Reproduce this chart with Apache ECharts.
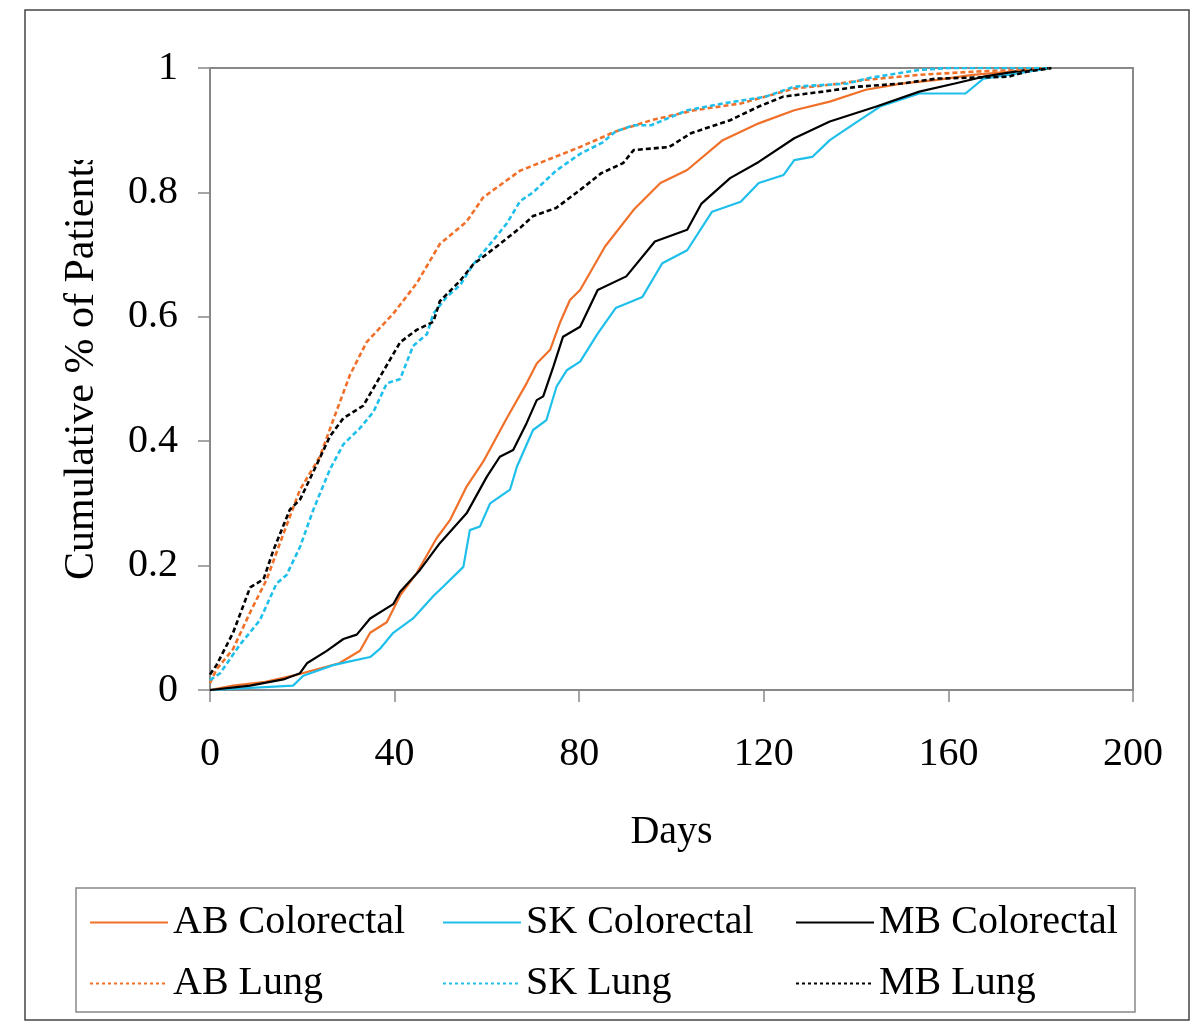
<!DOCTYPE html>
<html>
<head>
<meta charset="utf-8">
<script src="https://cdn.jsdelivr.net/npm/echarts@6/dist/echarts.min.js"></script>
<style>
html,body{margin:0;padding:0;background:#fff;}
#chart{width:1200px;height:1036px;}
</style>
</head>
<body>
<div id="chart"></div>
<script>
// ---- Data ----
var seriesNames = ['AB Colorectal', 'SK Colorectal', 'MB Colorectal', 'AB Lung', 'SK Lung', 'MB Lung'];

var abColDays = [0, 5, 12, 18, 23, 28, 32.5, 34.7, 38.3, 41.2, 44.8, 49.1, 52, 55.6, 59.2, 64.3, 68.6, 70.8, 73.7, 75.8, 78, 80.2, 85.6, 91.8, 97.6, 103.4, 111.1, 118.9, 126.6, 134.3, 142.1, 149.8, 157.5, 165.3, 173, 182.3];
var abColVals = [0, 0.007, 0.013, 0.023, 0.033, 0.043, 0.063, 0.092, 0.109, 0.152, 0.188, 0.244, 0.273, 0.327, 0.367, 0.437, 0.493, 0.525, 0.547, 0.59, 0.627, 0.643, 0.713, 0.772, 0.815, 0.836, 0.884, 0.911, 0.932, 0.946, 0.965, 0.975, 0.981, 0.989, 0.994, 1];

var skColDays = [0, 18, 20.2, 26.7, 30.3, 34.7, 36.8, 39.7, 44, 48.4, 50.5, 54.9, 56.3, 58.5, 60.7, 65, 66.5, 70, 72.9, 75.1, 77.3, 80.2, 84, 87.9, 93.7, 98, 103.4, 108.8, 115, 118.9, 124.3, 126.6, 130.5, 134.3, 139.7, 145.2, 153.7, 163.7, 167.6, 173, 182.3];
var skColVals = [0, 0.007, 0.023, 0.04, 0.046, 0.053, 0.066, 0.092, 0.115, 0.151, 0.166, 0.198, 0.257, 0.263, 0.3, 0.322, 0.359, 0.418, 0.434, 0.488, 0.514, 0.528, 0.573, 0.614, 0.632, 0.686, 0.707, 0.769, 0.785, 0.815, 0.828, 0.852, 0.857, 0.884, 0.911, 0.938, 0.959, 0.959, 0.983, 0.989, 1];

var mbColDays = [0, 8.7, 15.9, 19.5, 21, 25.3, 28.9, 31.8, 34.7, 39.7, 41.2, 45.5, 49.8, 55.6, 60, 62.8, 65.7, 68.6, 70.8, 72.2, 74.4, 76.5, 80.2, 84, 90.2, 96.4, 103.4, 106.5, 112.7, 118.9, 126.6, 134.3, 144.4, 153.7, 161.4, 167.6, 176.9, 182.3];
var mbColVals = [0, 0.007, 0.017, 0.027, 0.043, 0.063, 0.082, 0.089, 0.115, 0.138, 0.158, 0.193, 0.236, 0.284, 0.343, 0.375, 0.386, 0.429, 0.466, 0.472, 0.52, 0.568, 0.584, 0.643, 0.665, 0.721, 0.74, 0.782, 0.823, 0.849, 0.887, 0.914, 0.938, 0.962, 0.975, 0.986, 0.997, 1];

var abLungDays = [0, 1.4, 5, 8.7, 12.3, 15.2, 19.5, 23.8, 26.7, 30.3, 33.9, 39.7, 44.8, 49.8, 55.6, 59.2, 67.2, 80.2, 87.9, 95.6, 104.9, 115, 126.6, 134.3, 142.1, 153.7, 165.3, 182.3];
var abLungVals = [0.011, 0.033, 0.066, 0.125, 0.178, 0.237, 0.322, 0.375, 0.434, 0.506, 0.559, 0.605, 0.654, 0.717, 0.753, 0.792, 0.835, 0.873, 0.898, 0.916, 0.932, 0.943, 0.967, 0.973, 0.981, 0.989, 0.994, 1];

var skLungDays = [0, 2.2, 6.5, 10.8, 14.4, 16.6, 19.5, 22.4, 26, 28.9, 32.5, 35.4, 38.3, 41.2, 44, 47, 48.4, 51.3, 54.2, 57, 60.7, 64.3, 67.2, 70, 75, 80.2, 85, 87.9, 91.8, 95.6, 103.4, 111.1, 120.4, 126.6, 138.2, 142.1, 153.7, 160, 182.3];
var skLungVals = [0.016, 0.027, 0.073, 0.112, 0.171, 0.185, 0.23, 0.29, 0.355, 0.395, 0.421, 0.447, 0.493, 0.5, 0.553, 0.572, 0.605, 0.632, 0.651, 0.684, 0.717, 0.75, 0.786, 0.8, 0.835, 0.862, 0.88, 0.898, 0.908, 0.908, 0.932, 0.943, 0.954, 0.97, 0.975, 0.983, 0.997, 1, 1];

var mbLungDays = [0, 1.4, 5, 8.7, 11.6, 13.7, 17.3, 19.5, 23.1, 26, 28.9, 33.2, 36.8, 41.2, 44.8, 48.4, 49.8, 54.2, 57, 62.8, 67.2, 70, 75, 80.2, 84.8, 89.5, 91.8, 99.5, 104.2, 112.7, 118.9, 124.2, 132.8, 140.5, 149.8, 157.5, 173, 176.9, 182.3];
var mbLungVals = [0.025, 0.04, 0.092, 0.165, 0.178, 0.224, 0.29, 0.306, 0.362, 0.408, 0.437, 0.457, 0.503, 0.559, 0.579, 0.592, 0.625, 0.658, 0.684, 0.717, 0.743, 0.762, 0.775, 0.804, 0.831, 0.847, 0.868, 0.873, 0.895, 0.916, 0.938, 0.954, 0.962, 0.97, 0.975, 0.983, 0.986, 0.994, 1];

var xTicks = [0, 40, 80, 120, 160, 200];
var yTicks = [0, 0.2, 0.4, 0.6, 0.8, 1];
var xAxisTitle = 'Days';
var yAxisTitle = 'Cumulative % of Patients';

// ---- Styles ----
var ORANGE = '#F0702A';
var CYAN = '#1EBFEA';
var BLACK = '#000000';
var FONT = "'Liberation Serif', 'Times New Roman', serif";

function zip(d, v) { return d.map(function (x, i) { return [x, v[i]]; }); }

function mk(name, days, vals, color, dashed) {
  return {
    name: name,
    type: 'line',
    data: zip(days, vals),
    symbol: 'none',
    showSymbol: false,
    silent: true,
    animation: false,
    lineStyle: { color: color, width: dashed ? 2.6 : 2.2, type: dashed ? [5, 3] : 'solid' },
    itemStyle: { color: color }
  };
}

var chart = echarts.init(document.getElementById('chart'), null, { renderer: 'canvas' });

var legendText = { fontFamily: FONT, fontSize: 40, color: '#000', lineHeight: 41 };
function mkLegend(left, names) {
  return {
    orient: 'vertical', left: left, top: 902, padding: 0,
    itemWidth: 78, itemHeight: 14, itemGap: 20,
    selectedMode: false,
    itemStyle: { opacity: 0 },
    data: [
      { name: names[0], lineStyle: { type: 'solid', width: 2 } },
      { name: names[1], lineStyle: { type: [3, 3], width: 2 } }
    ],
    textStyle: legendText
  };
}

var option = {
  backgroundColor: '#ffffff',
  animation: false,
  grid: { left: 210, right: 67, top: 68, bottom: 346, show: true, borderColor: '#888', borderWidth: 2, backgroundColor: 'transparent' },
  xAxis: {
    type: 'value', min: xTicks[0], max: xTicks[xTicks.length - 1], interval: 40,
    name: xAxisTitle, nameLocation: 'middle', nameGap: 122,
    nameTextStyle: { fontFamily: FONT, fontSize: 40, color: '#000' },
    axisLine: { show: true, lineStyle: { color: '#888', width: 2 } },
    axisTick: { show: true, inside: false, length: 12, lineStyle: { color: '#888', width: 1.5 } },
    axisLabel: { margin: 44, fontFamily: FONT, fontSize: 40, color: '#000' },
    splitLine: { show: false }
  },
  yAxis: {
    type: 'value', min: yTicks[0], max: yTicks[yTicks.length - 1], interval: 0.2,
    axisLine: { show: true, lineStyle: { color: '#888', width: 2 } },
    axisTick: { show: true, inside: false, length: 12, lineStyle: { color: '#888', width: 1.5 } },
    axisLabel: { margin: 32, fontFamily: FONT, fontSize: 40, color: '#000' },
    splitLine: { show: false }
  },
  legend: [
    mkLegend(89, ['AB Colorectal', 'AB Lung']),
    mkLegend(442, ['SK Colorectal', 'SK Lung']),
    mkLegend(795, ['MB Colorectal', 'MB Lung'])
  ],
  graphic: [
    { type: 'rect', z: -10, silent: true, shape: { x: 25, y: 10, width: 1164, height: 1010 }, style: { fill: 'transparent', stroke: '#444', lineWidth: 1.5 } },
    { type: 'rect', z: -10, silent: true, shape: { x: 76, y: 888, width: 1059, height: 124 }, style: { fill: 'transparent', stroke: '#888', lineWidth: 1.5 } },
    { type: 'text', z: 5, silent: true, x: 82, y: 580, rotation: Math.PI / 2,
      style: { text: yAxisTitle, font: "42px 'Liberation Serif', 'Times New Roman', serif", fill: '#000', textAlign: 'left', textVerticalAlign: 'middle' } },
    { type: 'rect', z: 6, silent: true, shape: { x: 55, y: 110, width: 60, height: 50 }, style: { fill: '#ffffff', stroke: null } }
  ],
  series: [
    mk(seriesNames[0], abColDays, abColVals, ORANGE, false),
    mk(seriesNames[1], skColDays, skColVals, CYAN, false),
    mk(seriesNames[2], mbColDays, mbColVals, BLACK, false),
    mk(seriesNames[3], abLungDays, abLungVals, ORANGE, true),
    mk(seriesNames[4], skLungDays, skLungVals, CYAN, true),
    mk(seriesNames[5], mbLungDays, mbLungVals, BLACK, true)
  ]
};
chart.setOption(option);
</script>
</body>
</html>
